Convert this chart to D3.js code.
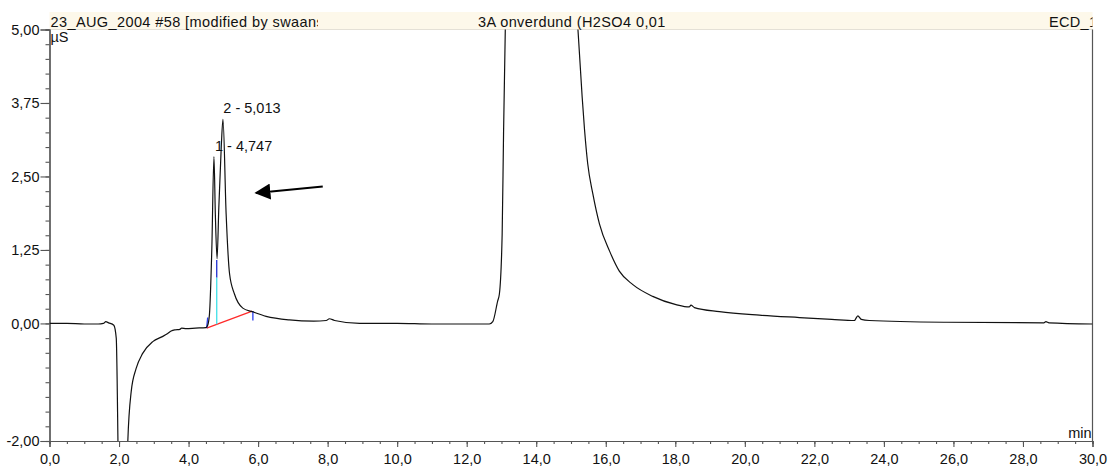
<!DOCTYPE html>
<html>
<head>
<meta charset="utf-8">
<title>chromatogram</title>
<style>
  body { margin: 0; background: #fff; overflow: hidden; }
  svg text { font-family: "Liberation Sans", Arial, sans-serif; }
</style>
<script src="https://d3js.org/d3.v7.min.js"></script>
</head>
<body>
<script>
// ---- data (time in min, signal in µS) ----
const traceTime = [0.0, 0.5, 1.0, 1.4, 1.55, 1.62, 1.7, 1.85, 1.92, 1.97, 2.02, 2.1, 2.2, 2.25,
  2.35, 2.49, 2.68, 2.97, 3.26, 3.4, 3.5, 3.6, 3.75, 3.8, 3.93, 4.2, 4.5, 4.55, 4.6, 4.67,
  4.73, 4.77, 4.82, 4.87, 4.94, 4.99, 5.08, 5.18, 5.32, 5.56, 5.83, 6.23, 6.9, 7.6, 7.96,
  8.05, 8.2, 8.92, 10.0, 11.0, 12.0, 12.5, 12.65, 12.75, 12.89, 12.94, 13.02, 13.06, 13.11,
  13.2, 13.5, 14.0, 14.5, 15.0, 15.2, 15.32, 15.39, 15.48, 15.63, 15.82, 16.11, 16.39,
  16.78, 17.35, 18.02, 18.4, 18.45, 18.55, 19.27, 20.42, 21.57, 22.5, 23.15, 23.25, 23.35,
  23.58, 25.79, 28.6, 28.66, 28.75, 30.0];
const traceUs = [0.0, 0.0, -0.01, -0.01, 0.0, 0.03, 0.01, -0.03, -0.25, -2.05, -4.5, -6.0, -4.0, -2.05,
  -1.16, -0.77, -0.51, -0.31, -0.22, -0.17, -0.13, -0.11, -0.1, -0.08, -0.09, -0.08, -0.07, -0.03, 0.15, 1.29,
  2.84, 1.86, 1.1, 1.97, 3.0, 3.47, 1.87, 0.84, 0.5, 0.26, 0.2, 0.12, 0.06, 0.04, 0.05,
  0.08, 0.05, 0.0, 0.0, -0.01, -0.01, -0.01, -0.01, 0.03, 0.38, 0.5, 1.52, 3.23, 5.0,
  7.5, 10.5, 12.0, 11.0, 7.5, 5.0, 3.86, 3.29, 2.72, 2.2, 1.69, 1.23, 0.89,
  0.66, 0.46, 0.32, 0.28, 0.31, 0.27, 0.2, 0.14, 0.1, 0.07, 0.05, 0.13, 0.07,
  0.05, 0.02, 0.01, 0.03, 0.01, -0.01];

// integration marks of peaks 1 and 2
const baselineStart = [4.52, -0.08];
const baselineEnd = [5.83, 0.21];
const dropLine = [4.81, -0.015, 0.78];      // time, from, to (cyan)
const dropLineTop = [4.81, 0.78, 1.08];     // blue part up to the valley
const delimiters = [[4.52, -0.08, 4.55, 0.1], [5.85, 0.21, 5.85, 0.05]];

const peakLabels = ["1 - 4,747", "2 - 5,013"];
const peakLabelPos = [[4.76, 2.94], [5.0, 3.58]];
const arrowFrom = [7.86, 2.33];
const arrowTo = [5.94, 2.22];

const headerTexts = ["23_AUG_2004 #58 [modified by swaanst]", "3A onverdund (H2SO4 0,01M)", "ECD_1"];
const xTicks = [0, 2, 4, 6, 8, 10, 12, 14, 16, 18, 20, 22, 24, 26, 28, 30];
const yTicks = [5, 3.75, 2.5, 1.25, 0, -2];

// ---- layout ----
const W = 1116, H = 473;
const pL = 49.5, pR = 1092.5, pT = 29.5, pB = 441;
const FS = 14.5;

const svg = d3.select("body").append("svg")
  .attr("width", W).attr("height", H);

const x = d3.scaleLinear().domain([0, 30]).range([pL, pR]);
const y = d3.scaleLinear().domain([-2, 5]).range([pB, pT]);

const loc = d3.formatLocale({decimal: ",", thousands: ".", grouping: [3], currency: ["", ""], minus: "-"});
const fx = loc.format(".1f"), fy = loc.format(".2f");

// header band
svg.append("rect")
  .attr("x", pL).attr("y", 12)
  .attr("width", pR - pL).attr("height", pT - 12)
  .attr("fill", "#fdf8ea");
svg.append("line")
  .attr("x1", pL).attr("x2", pR).attr("y1", pT).attr("y2", pT)
  .attr("stroke", "#e4e0d6");

const defs = svg.append("defs");
const clips = [[pL, 318], [476, 665], [1040, pR]];
clips.forEach((c, i) => {
  defs.append("clipPath").attr("id", "hc" + i)
    .append("rect").attr("x", c[0]).attr("y", 8).attr("width", c[1] - c[0]).attr("height", 22);
});
defs.append("clipPath").attr("id", "plot")
  .append("rect").attr("x", pL).attr("y", pT).attr("width", pR - pL).attr("height", pB - pT);

// header texts, each cut off at its own field width
const headerX = [50.5, 478, 1049];
const headerSpacing = [0.4, 0.4, 0.3];
headerTexts.forEach((t, i) => {
  svg.append("g").attr("clip-path", `url(#hc${i})`)
    .append("text")
    .attr("x", headerX[i]).attr("y", 26.5)
    .attr("font-size", FS).attr("fill", "#111")
    .attr("letter-spacing", headerSpacing[i])
    .text(t);
});

// axes
const axisColor = "#555";
const gy = svg.append("g").attr("transform", `translate(${pL},0)`);
gy.call(d3.axisLeft(y).tickValues(d3.range(-2, 5.001, 0.25)).tickSize(4).tickFormat(""));
gy.append("g").call(d3.axisLeft(y).tickValues(yTicks).tickSize(9).tickPadding(1).tickFormat(fy));

const gx = svg.append("g").attr("transform", `translate(0,${pB})`);
gx.call(d3.axisBottom(x).tickValues(d3.range(0, 30.001, 0.5)).tickSize(3).tickFormat(""));
gx.append("g").call(d3.axisBottom(x).tickValues(xTicks).tickSize(6).tickPadding(7).tickFormat(fx));

svg.selectAll(".domain").attr("stroke", axisColor).attr("stroke-width", 1.2);
svg.selectAll(".tick line").attr("stroke", axisColor).attr("stroke-width", 1.1);
svg.selectAll(".tick text").attr("font-size", FS).attr("fill", "#111")
  .attr("font-family", "Liberation Sans, Arial, sans-serif");

// right frame line
svg.append("line")
  .attr("x1", pR).attr("x2", pR).attr("y1", pT).attr("y2", pB)
  .attr("stroke", axisColor).attr("stroke-width", 1.2);

svg.append("text").attr("x", pL + 1).attr("y", 41.5).attr("font-size", FS).attr("fill", "#111").text("µS");
svg.append("text").attr("x", pR - 1).attr("y", 438).attr("text-anchor", "end")
  .attr("font-size", FS).attr("fill", "#111").text("min");

// peak labels (drawn under the trace)
peakLabels.forEach((t, i) => {
  svg.append("text")
    .attr("x", x(peakLabelPos[i][0])).attr("y", y(peakLabelPos[i][1]))
    .attr("font-size", FS).attr("fill", "#111").text(t);
});

const plot = svg.append("g").attr("clip-path", "url(#plot)");

// integration marks
plot.append("line")
  .attr("x1", x(baselineStart[0])).attr("y1", y(baselineStart[1]))
  .attr("x2", x(baselineEnd[0])).attr("y2", y(baselineEnd[1]))
  .attr("stroke", "#ff2a2a").attr("stroke-width", 1.3);
plot.append("line")
  .attr("x1", x(dropLine[0])).attr("x2", x(dropLine[0]))
  .attr("y1", y(dropLine[1])).attr("y2", y(dropLine[2]))
  .attr("stroke", "#3fe0e8").attr("stroke-width", 1.3);
plot.append("line")
  .attr("x1", x(dropLineTop[0])).attr("x2", x(dropLineTop[0]))
  .attr("y1", y(dropLineTop[1])).attr("y2", y(dropLineTop[2]))
  .attr("stroke", "#1f2fd0").attr("stroke-width", 1.3);
delimiters.forEach(d => {
  plot.append("line")
    .attr("x1", x(d[0])).attr("y1", y(d[1])).attr("x2", x(d[2])).attr("y2", y(d[3]))
    .attr("stroke", "#2a3cf0").attr("stroke-width", 1.3);
});

// trace
const pts = traceTime.map((t, i) => [t, traceUs[i]]);
plot.append("path")
  .datum(pts)
  .attr("fill", "none")
  .attr("stroke", "#111")
  .attr("stroke-width", 1.2)
  .attr("d", d3.line().x(d => x(d[0])).y(d => y(d[1])).curve(d3.curveMonotoneX));

// arrow
defs.append("marker").attr("id", "ah")
  .attr("viewBox", "0 0 10 10").attr("refX", 9).attr("refY", 5)
  .attr("markerWidth", 8).attr("markerHeight", 8).attr("markerUnits", "strokeWidth")
  .attr("orient", "auto")
  .append("path").attr("d", "M0,0 L10,5 L0,10 Z").attr("fill", "#000");
svg.append("line")
  .attr("x1", x(arrowFrom[0])).attr("y1", y(arrowFrom[1]))
  .attr("x2", x(arrowTo[0])).attr("y2", y(arrowTo[1]))
  .attr("stroke", "#000").attr("stroke-width", 2)
  .attr("marker-end", "url(#ah)");
</script>
</body>
</html>
